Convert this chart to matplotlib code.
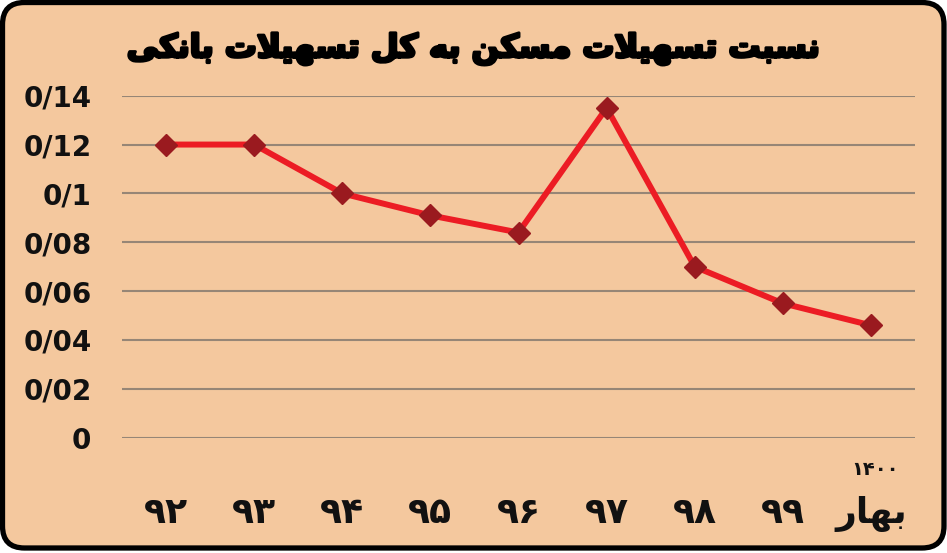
import matplotlib
matplotlib.use('Agg')
import matplotlib.pyplot as plt
import matplotlib.patheffects as pe
from matplotlib.patches import FancyBboxPatch

# داده‌ها
years = ['۹۲', '۹۳', '۹۴', '۹۵', '۹۶', '۹۷', '۹۸', '۹۹', 'بهار']
ratio = [0.12, 0.12, 0.10, 0.091, 0.084, 0.135, 0.070, 0.055, 0.046]
yticks = [0, 0.02, 0.04, 0.06, 0.08, 0.10, 0.12, 0.14]
ytick_labels = ['0', '0/02', '0/04', '0/06', '0/08', '0/1', '0/12', '0/14']
title = 'نسبت تسهیلات مسکن به کل تسهیلات بانکی'
last_year = '۱۴۰۰'

PEACH = '#F4C89E'
LINE_RED = '#EC1C24'
MARK_RED = '#9A1A1F'
GRID = '#968676'

# matplotlib does no arabic shaping, so pick presentation forms by hand
FORMS = {
    'ا': ('\uFE8D', '\uFE8E', None, None),
    'ب': ('\uFE8F', '\uFE90', '\uFE91', '\uFE92'),
    'ت': ('\uFE95', '\uFE96', '\uFE97', '\uFE98'),
    'س': ('\uFEB1', '\uFEB2', '\uFEB3', '\uFEB4'),
    'ن': ('\uFEE5', '\uFEE6', '\uFEE7', '\uFEE8'),
    'ه': ('\uFEE9', '\uFEEA', '\uFEEB', '\uFEEC'),
    'ی': ('\uFBFC', '\uFBFD', '\uFBFE', '\uFBFF'),
    'ل': ('\uFEDD', '\uFEDE', '\uFEDF', '\uFEE0'),
    'م': ('\uFEE1', '\uFEE2', '\uFEE3', '\uFEE4'),
    'ک': ('\uFB8E', '\uFB8F', '\uFB90', '\uFB91'),
    'ر': ('\uFEAD', '\uFEAE', None, None),
}


def joins_next(c):
    return c in FORMS and FORMS[c][2] is not None


def shape_fa(text):
    # digits are left alone, only persian words get shaped and reversed
    if not any(c in FORMS for c in text):
        return text
    out = []
    i = 0
    n = len(text)
    while i < n:
        c = text[i]
        if c not in FORMS:
            out.append(c)
            i += 1
            continue
        from_prev = i > 0 and joins_next(text[i - 1])
        if c == 'ل' and i + 1 < n and text[i + 1] == 'ا':
            out.append('\uFEFC' if from_prev else '\uFEFB')
            i += 2
            continue
        to_next = joins_next(c) and i + 1 < n and text[i + 1] in FORMS
        iso, fin, ini, med = FORMS[c]
        if from_prev and to_next:
            g = med
        elif from_prev:
            g = fin
        elif to_next:
            g = ini
        else:
            g = iso
        out.append(g)
        i += 1
    return ''.join(reversed(out))


fig = plt.figure(figsize=(9.47, 5.53), dpi=100)

# قاب گرد دور نمودار
bg = fig.add_axes([0, 0, 1, 1])
bg.set_xlim(0, 947)
bg.set_ylim(0, 553)
bg.axis('off')
bg.add_patch(FancyBboxPatch((2.5, 5), 941.5, 545.5,
                            boxstyle='round,pad=0,rounding_size=22',
                            fc=PEACH, ec='black', lw=3.8))

ax = fig.add_axes([122 / 947, 115.3 / 553, 793 / 947, 342 / 553])
ax.set_facecolor('none')
x = list(range(len(ratio)))
ax.plot(x, ratio, color=LINE_RED, lw=4.3, marker='D', ms=11.5,
        mfc=MARK_RED, mec=MARK_RED, zorder=3)

ax.set_xlim(-0.5, len(ratio) - 0.5)
ax.set_ylim(0, 0.14)
ax.set_yticks(yticks)
ax.set_yticklabels(ytick_labels, fontsize=20, fontweight='bold', color='#111111')
ax.set_xticks(x)
ax.set_xticklabels([shape_fa(y) for y in years], fontsize=26, fontweight='bold',
                   color='#111111')
ax.tick_params(axis='y', length=0, pad=22)
ax.tick_params(axis='x', length=0, pad=42)
ax.yaxis.grid(True, color=GRID, lw=1.5)
ax.set_axisbelow(True)
for s in ax.spines.values():
    s.set_visible(False)

ax.annotate(last_year, xy=(len(ratio) - 1, 0), xycoords=('data', 'axes fraction'),
            xytext=(3, -23), textcoords='offset points', ha='center', va='center',
            fontsize=14, fontweight='bold', color='#111111')

fig.text(475 / 947, 1 - 49 / 553, shape_fa(title), ha='center', va='center',
         fontsize=23, fontweight='bold', color='black',
         path_effects=[pe.withStroke(linewidth=2.2, foreground='black')])

fig.savefig('out.png', dpi=100)
